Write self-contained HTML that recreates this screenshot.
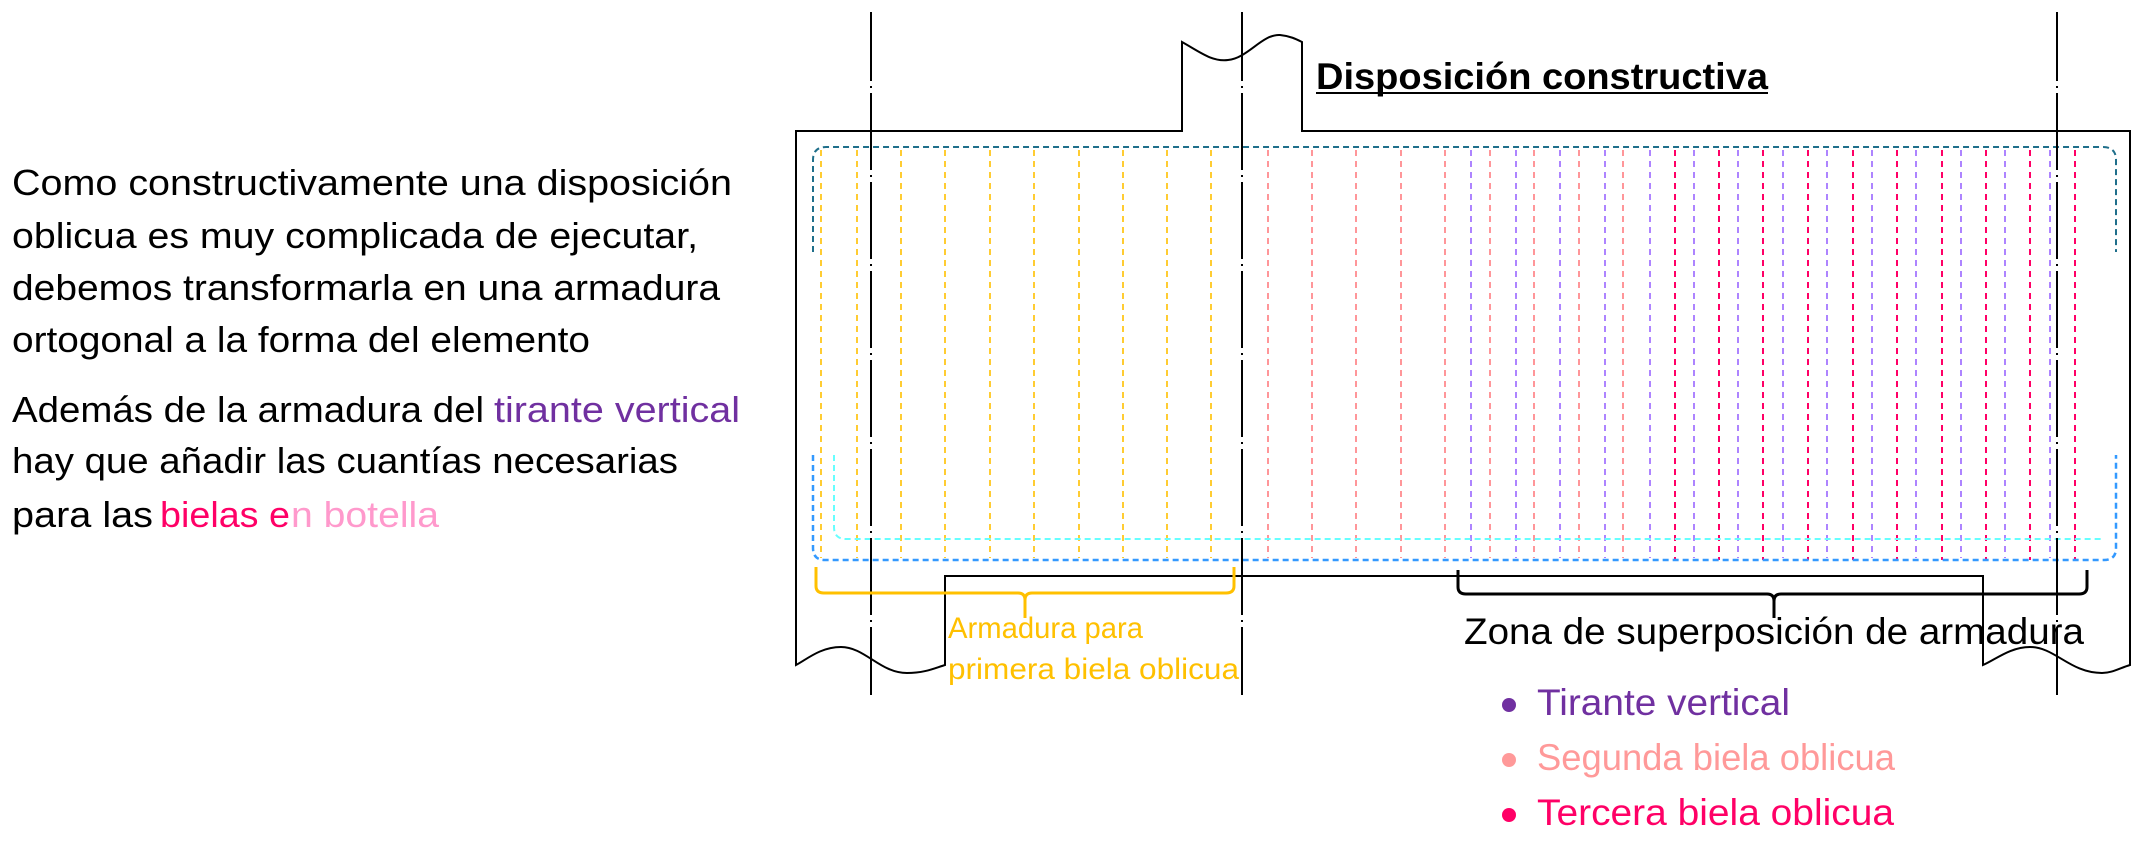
<!DOCTYPE html>
<html><head><meta charset="utf-8"><style>
html,body{margin:0;padding:0;background:#fff;}
svg{display:block;}
text{font-family:"Liberation Sans",sans-serif;}
</style></head><body>
<svg width="2150" height="858" viewBox="0 0 2150 858" xmlns="http://www.w3.org/2000/svg">
<!-- left text -->
<g font-size="36" fill="#000">
<text x="12" y="195" textLength="720" lengthAdjust="spacingAndGlyphs">Como constructivamente una disposición</text>
<text x="12" y="248" textLength="686" lengthAdjust="spacingAndGlyphs">oblicua es muy complicada de ejecutar,</text>
<text x="12" y="300" textLength="708" lengthAdjust="spacingAndGlyphs">debemos transformarla en una armadura</text>
<text x="12" y="352" textLength="578" lengthAdjust="spacingAndGlyphs">ortogonal a la forma del elemento</text>
<text x="12" y="422" textLength="472" lengthAdjust="spacingAndGlyphs">Además de la armadura del</text>
<text x="494" y="422" fill="#7030a0" textLength="246" lengthAdjust="spacingAndGlyphs">tirante vertical</text>
<text x="12" y="473" textLength="666" lengthAdjust="spacingAndGlyphs">hay que añadir las cuantías necesarias</text>
<text x="12" y="527" textLength="141" lengthAdjust="spacingAndGlyphs">para las</text>
<text x="160" y="527" fill="#ff0066" textLength="130" lengthAdjust="spacingAndGlyphs">bielas e</text>
<text x="291" y="527" fill="#ff99cc" textLength="148" lengthAdjust="spacingAndGlyphs">n botella</text>
</g>
<!-- title -->
<text x="1316" y="89" font-size="37" font-weight="bold" textLength="452" lengthAdjust="spacingAndGlyphs">Disposición constructiva</text>
<line x1="1316" y1="93" x2="1768" y2="93" stroke="#000" stroke-width="2"/>
<!-- outer shape -->
<path d="M796 665 L796 131 L1182 131 L1182 42 C1200 52 1212 62 1228 60 C1248 58 1262 34 1280 35 C1290 36 1296 39 1302 42 L1302 131 L2130 131 L2130 665 C2120 668 2112 673 2102 673 C2070 673 2055 647 2030 647 C2010 647 1995 660 1983 665 L1983 576 L945 576 L945 665 C935 668 925 673 907 673 C880 673 865 647 841 647 C820 647 806 660 796 665 Z" fill="none" stroke="#000" stroke-width="2"/>
<!-- dashed rebars -->
<g stroke-dasharray="6 5" stroke-width="1.6">
<g stroke="#ffc000">
<line x1="821" y1="150" x2="821" y2="558"/><line x1="857" y1="150" x2="857" y2="558"/><line x1="901" y1="150" x2="901" y2="558"/><line x1="945" y1="150" x2="945" y2="558"/><line x1="990" y1="150" x2="990" y2="558"/><line x1="1034" y1="150" x2="1034" y2="558"/><line x1="1079" y1="150" x2="1079" y2="558"/><line x1="1123" y1="150" x2="1123" y2="558"/><line x1="1167" y1="150" x2="1167" y2="558"/><line x1="1211" y1="150" x2="1211" y2="558"/>
</g>
<g stroke="#ff7c80">
<line x1="1268" y1="150" x2="1268" y2="558"/><line x1="1312" y1="150" x2="1312" y2="558"/><line x1="1356" y1="150" x2="1356" y2="558"/><line x1="1401" y1="150" x2="1401" y2="558"/><line x1="1445" y1="150" x2="1445" y2="558"/><line x1="1490" y1="150" x2="1490" y2="558"/><line x1="1534" y1="150" x2="1534" y2="558"/><line x1="1579" y1="150" x2="1579" y2="558"/><line x1="1623" y1="150" x2="1623" y2="558"/>
</g>
<g stroke="#9966ff">
<line x1="1471" y1="150" x2="1471" y2="558"/><line x1="1516" y1="150" x2="1516" y2="558"/><line x1="1560" y1="150" x2="1560" y2="558"/><line x1="1605" y1="150" x2="1605" y2="558"/><line x1="1650" y1="150" x2="1650" y2="558"/><line x1="1694" y1="150" x2="1694" y2="558"/><line x1="1738" y1="150" x2="1738" y2="558"/><line x1="1783" y1="150" x2="1783" y2="558"/><line x1="1827" y1="150" x2="1827" y2="558"/><line x1="1872" y1="150" x2="1872" y2="558"/><line x1="1916" y1="150" x2="1916" y2="558"/><line x1="1961" y1="150" x2="1961" y2="558"/><line x1="2005" y1="150" x2="2005" y2="558"/><line x1="2050" y1="150" x2="2050" y2="558"/>
</g>
<g stroke="#ff0066" stroke-width="2">
<line x1="1675" y1="150" x2="1675" y2="560"/><line x1="1719" y1="150" x2="1719" y2="560"/><line x1="1763" y1="150" x2="1763" y2="560"/><line x1="1808" y1="150" x2="1808" y2="560"/><line x1="1853" y1="150" x2="1853" y2="560"/><line x1="1897" y1="150" x2="1897" y2="560"/><line x1="1942" y1="150" x2="1942" y2="560"/><line x1="1986" y1="150" x2="1986" y2="560"/><line x1="2030" y1="150" x2="2030" y2="560"/><line x1="2075" y1="150" x2="2075" y2="560"/>
</g>
</g>
<path d="M813 252 L813 160 Q813 147 826 147 L2103 147 Q2116 147 2116 160 L2116 252" fill="none" stroke="#1f6f8b" stroke-width="2" stroke-dasharray="6 4"/>
<path d="M834 455 L834 527 Q834 539 846 539 L2102 539" fill="none" stroke="#66ffff" stroke-width="2" stroke-dasharray="6 4"/>
<path d="M813 455 L813 548 Q813 560 825 560 L2104 560 Q2116 560 2116 548 L2116 455" fill="none" stroke="#3399ff" stroke-width="2.5" stroke-dasharray="6 4"/>
<!-- axes -->
<g stroke="#000" stroke-width="2" stroke-dasharray="77 5 2 5" stroke-dashoffset="8">
<line x1="871" y1="12" x2="871" y2="695"/>
<line x1="1242" y1="12" x2="1242" y2="695"/>
<line x1="2057" y1="12" x2="2057" y2="695"/>
</g>
<!-- yellow brace -->
<path d="M816 567 L816 586 Q816 593 824 593 L1018 593 Q1025 593 1025 600 L1025 618 M1025 600 Q1025 593 1032 593 L1226 593 Q1234 593 1234 586 L1234 567" fill="none" stroke="#ffc000" stroke-width="3"/>
<text x="948" y="638" font-size="30" fill="#ffc000" textLength="195" lengthAdjust="spacingAndGlyphs">Armadura para</text>
<text x="948" y="679" font-size="30" fill="#ffc000" textLength="291" lengthAdjust="spacingAndGlyphs">primera biela oblicua</text>
<!-- black brace -->
<path d="M1458 570 L1458 587 Q1458 594 1466 594 L1767 594 Q1774 594 1774 601 L1774 618 M1774 601 Q1774 594 1781 594 L2079 594 Q2087 594 2087 587 L2087 570" fill="none" stroke="#000" stroke-width="3"/>
<text x="1464" y="644" font-size="37" fill="#000" textLength="620" lengthAdjust="spacingAndGlyphs">Zona de superposición de armadura</text>
<!-- legend -->
<circle cx="1509" cy="705" r="7" fill="#7030a0"/>
<text x="1537" y="715" font-size="37" fill="#7030a0" textLength="253" lengthAdjust="spacingAndGlyphs">Tirante vertical</text>
<circle cx="1509" cy="760" r="7" fill="#ff9999"/>
<text x="1537" y="770" font-size="37" fill="#ff9999" textLength="358" lengthAdjust="spacingAndGlyphs">Segunda biela oblicua</text>
<circle cx="1509" cy="815" r="7" fill="#ff0066"/>
<text x="1537" y="825" font-size="37" fill="#ff0066" textLength="357" lengthAdjust="spacingAndGlyphs">Tercera biela oblicua</text>
</svg>
</body></html>
